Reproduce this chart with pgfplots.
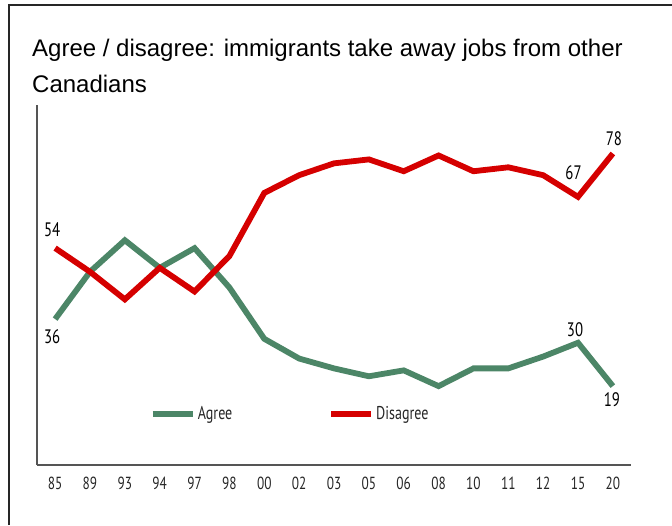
\documentclass[border=0pt]{standalone}
\usepackage{pgfplots}
\pgfplotsset{compat=1.18}
\usepackage{fontspec}
\setmainfont{Liberation Sans}
\newfontfamily\cond[FakeStretch=0.76]{PT Sans}
\definecolor{agreeC}{RGB}{76,134,103}
\definecolor{disC}{RGB}{213,0,0}
\definecolor{axC}{RGB}{85,85,85}
\begin{document}
\begin{tikzpicture}[x=1pt,y=1pt]
\useasboundingbox (0,0) rectangle (672,525);
\draw[line width=2pt, black!85] (9,0) -- (9,520) -- (672,520);
\node[anchor=base west, inner sep=0pt, font=\fontsize{24pt}{36pt}\selectfont] at (32,468) {Agree / disagree: immigrants take away jobs from other};
\node[anchor=base west, inner sep=0pt, font=\fontsize{24pt}{36pt}\selectfont] at (32,432) {Canadians};
\begin{axis}[
  at={(37pt,60pt)}, anchor=south west,
  scale only axis, width=594pt, height=360pt,
  xmin=-0.52, xmax=16.52, ymin=-1.0, ymax=90.3,
  axis x line=bottom, axis y line=left,
  axis line style={-, draw=axC, line width=1.3pt},
  ytick=\empty,
  xtick={0,...,16},
  xticklabels={85,89,93,94,97,98,00,02,03,05,06,08,10,11,12,15,20},
  major tick length=0pt,
  xticklabel style={font=\cond\fontsize{17.5pt}{20pt}\selectfont, anchor=base, yshift=-24pt, text=black!85},
  clip=false,
  legend style={draw=none, fill=none, inner sep=0pt, at={(0.19,0.142)}, anchor=west,
    font=\cond\fontsize{18.5pt}{20pt}\selectfont, text=black!85,
    /tikz/every even column/.append style={column sep=94pt}},
  legend columns=2,
  legend image code/.code={\draw[#1, line width=5.5pt] (0pt,0pt) -- (33pt,0pt); \path (0pt,0pt) -- (40pt,0pt);},
]
\addplot[agreeC, line width=5.8pt] coordinates {
(0,36) (1,48) (2,56) (3,49) (4,54) (5,44) (6,31) (7,26) (8,23.5) (9,21.5) (10,23) (11,19) (12,23.5) (13,23.5) (14,26.5) (15,30) (16,19)};
\addlegendentry{Agree}
\addplot[disC, line width=5.8pt] coordinates {
(0,54) (1,48) (2,41) (3,49) (4,43) (5,52) (6,68) (7,72.5) (8,75.5) (9,76.5) (10,73.5) (11,77.5) (12,73.5) (13,74.5) (14,72.5) (15,67) (16,78)};
\addlegendentry{Disagree}
\begin{scope}[every node/.style={font=\cond\fontsize{19.5pt}{20pt}\selectfont, anchor=base, inner sep=0pt, text=black}]
\node[xshift=-3pt, yshift=12pt] at (axis cs:0,54) {54};
\node[xshift=-3pt, yshift=-24pt] at (axis cs:0,36) {36};
\node[xshift=1pt, yshift=8pt] at (axis cs:16,78) {78};
\node[xshift=-4.5pt, yshift=17pt] at (axis cs:15,67) {67};
\node[xshift=-3pt, yshift=6pt] at (axis cs:15,30) {30};
\node[xshift=-1pt, yshift=-20pt] at (axis cs:16,19) {19};
\end{scope}
\end{axis}
\end{tikzpicture}
\end{document}
